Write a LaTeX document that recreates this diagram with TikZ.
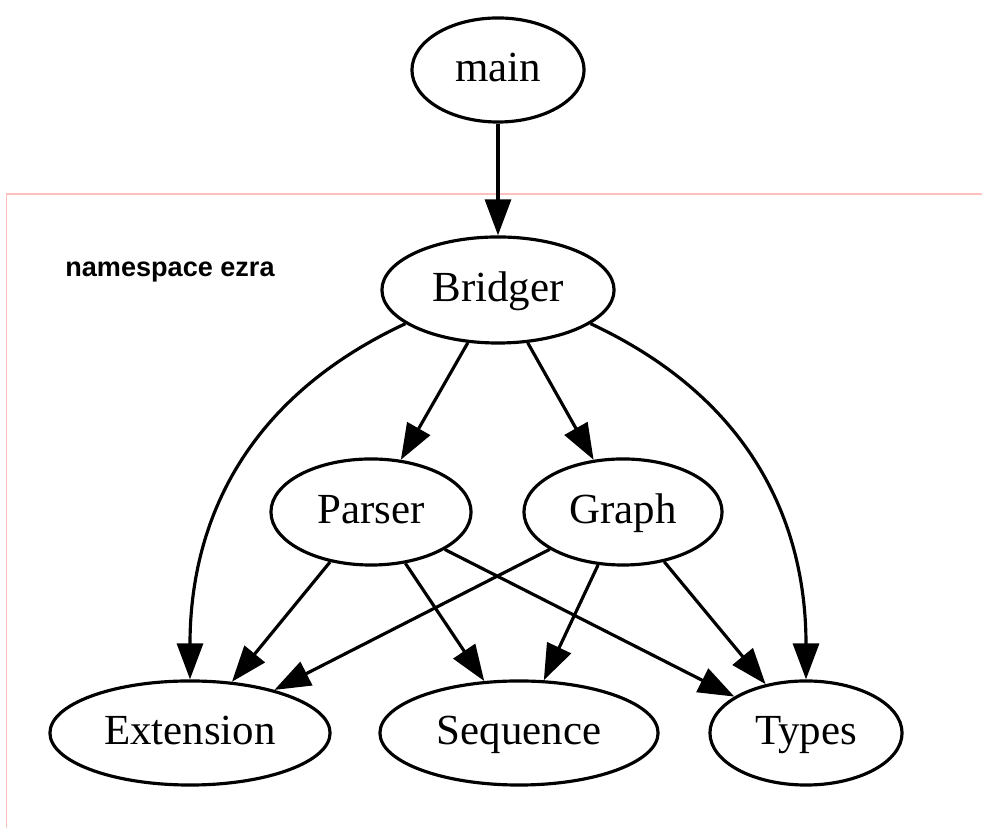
\documentclass[tikz,border=0pt]{standalone}
\usepackage{fontspec}
\setmainfont{Liberation Serif}
\newfontfamily\labelfont{Liberation Sans}
\usetikzlibrary{shapes.geometric,arrows.meta}

\begin{document}
\begin{tikzpicture}[x=0.01cm, y=0.01cm]
\tikzset{unit/.style = {shape = ellipse, draw, line width = 0.9pt, inner sep = 0pt,
    text height = 0.35cm, text depth = 0.11cm, font = \fontsize{12.2}{14}\selectfont},
  dep/.style = {draw, line width = 0.9pt, -{Triangle[length=3.6mm, width=2.6mm]}}}
\useasboundingbox (0,0) rectangle (982,828);

% cluster frame
\begin{scope}
\clip (0,0) rectangle (982,828);
\draw[pink, line width = 0.4pt] (6.5,634) rectangle (1000,-20);
\end{scope}
\node[font = \labelfont\bfseries\fontsize{7.7}{9}\selectfont] (ns) at (170,556) {namespace ezra};

\node[unit, minimum width = 1.72cm, minimum height = 1.04cm] (main) at (498,758) {main};
\node[unit, minimum width = 2.32cm, minimum height = 1.06cm] (bridger) at (498,538) {Bridger};
\node[unit, minimum width = 2.00cm, minimum height = 1.06cm] (parser) at (371,316) {Parser};
\node[unit, minimum width = 1.98cm, minimum height = 1.06cm] (graph) at (623,316) {Graph};
\node[unit, minimum width = 2.80cm, minimum height = 1.04cm] (extension) at (190,95) {Extension};
\node[unit, minimum width = 2.78cm, minimum height = 1.04cm] (sequence) at (519,95) {Sequence};
\node[unit, minimum width = 1.92cm, minimum height = 1.04cm] (types) at (806,95) {Types};

\draw[dep] (main) -- (bridger);
\draw[dep] (bridger) -- (parser); \draw[dep] (bridger) -- (graph);
\draw[dep] (bridger.200) to[out=205, in=90, out looseness=1.23, in looseness=0.8] (extension.north);
\draw[dep] (bridger.340) to[out=-25, in=90, out looseness=1.23, in looseness=0.8] (types.north);
\draw[dep] (parser) -- (extension); \draw[dep] (parser) -- (sequence); \draw[dep] (parser) -- (types);
\draw[dep] (graph) -- (extension); \draw[dep] (graph) -- (sequence); \draw[dep] (graph) -- (types);
\end{tikzpicture}
\end{document}
